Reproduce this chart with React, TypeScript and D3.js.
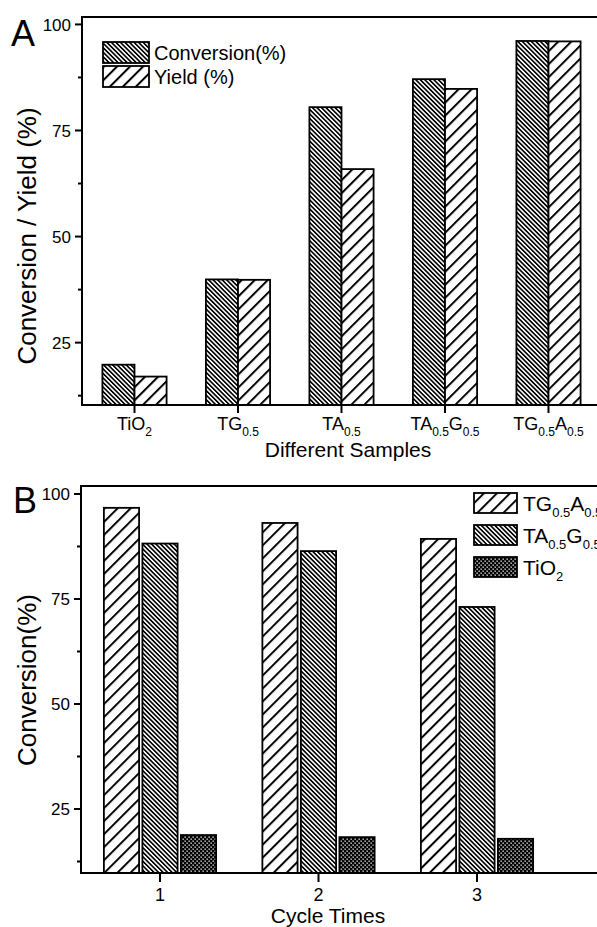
import React from "react";
import * as d3 from "d3";

// ---------- data ----------
const samples = ["TiO2", "TG0.5", "TA0.5", "TA0.5G0.5", "TG0.5A0.5"];
const conversionA = [19.8, 39.9, 80.5, 87.1, 96.1];
const yieldA = [17.0, 39.8, 65.9, 84.8, 96.0];

const cycles = ["1", "2", "3"];
const seriesB = ["TG0.5A0.5", "TA0.5G0.5", "TiO2"];
const convTGA = [96.7, 93.1, 89.3];
const convTAG = [88.2, 86.4, 73.1];
const convTiO2 = [18.8, 18.3, 17.9];

const yMajor = [25, 50, 75, 100];
const yMinor = [12.5, 37.5, 62.5, 87.5];

const FONT = "'Liberation Sans', Arial, Helvetica, sans-serif";

function SubText({ text, x, y, size, subSize, anchor = "start", shift = 5 }: any) {
  const parts = text.split(/(\d+(?:\.\d+)?)/).filter((p: string) => p !== "");
  let sub = false;
  return (
    <text x={x} y={y} fontSize={size} textAnchor={anchor} fontFamily={FONT} fill="#000">
      {parts.map((p: string, i: number) => {
        const isNum = /^\d/.test(p);
        let dy = 0;
        if (isNum && !sub) { dy = shift; sub = true; }
        else if (!isNum && sub) { dy = -shift; sub = false; }
        return (
          <tspan key={i} dy={dy} fontSize={isNum ? subSize : size}>{p}</tspan>
        );
      })}
    </text>
  );
}

const patFill: Record<string, string> = {
  dense: "url(#dense)",
  sparse: "url(#sparse)",
  dots: "url(#dots)",
};

export default function App() {
  // Panel A scales
  const xA = d3.scaleLinear().domain([0.5, 5.5]).range([82.75, 600.25]);
  const yA = d3.scaleLinear().domain([10.3, 101.75]).range([405, 17]);
  const bwA = 0.31; // bar width in category units

  // Panel B scales
  const xB = d3.scaleLinear().domain([0.5, 3.5]).range([80.75, 556.25]);
  const yB = d3.scaleLinear().domain([9.76, 101.9]).range([873, 486]);
  const bwB = 0.222;
  const offB = 0.243;

  const seriesBData = [
    { vals: convTGA, fill: "sparse" },
    { vals: convTAG, fill: "dense" },
    { vals: convTiO2, fill: "dots" },
  ];

  return (
    <svg
      width={597}
      height={927}
      style={{ position: "absolute", left: 0, top: 0, background: "#fff" }}
      fontFamily={FONT}
    >
      <defs>
        <pattern id="dense" patternUnits="userSpaceOnUse" width={3.2} height={3.2} patternTransform="rotate(-45)">
          <rect width={3.2} height={3.2} fill="#fff" />
          <line x1={0.8} y1={-1} x2={0.8} y2={5} stroke="#000" strokeWidth={1.7} />
        </pattern>
        <pattern id="sparse" patternUnits="userSpaceOnUse" width={9.2} height={9.2} patternTransform="rotate(45)">
          <rect width={9.2} height={9.2} fill="#fff" />
          <line x1={1} y1={-1} x2={1} y2={11} stroke="#000" strokeWidth={2} />
        </pattern>
        <pattern id="dots" patternUnits="userSpaceOnUse" width={4} height={4}>
          <rect width={4} height={4} fill="#000" />
          <rect x={0.5} y={0.5} width={1.3} height={1.3} fill="#fff" />
          <rect x={2.5} y={2.5} width={1.3} height={1.3} fill="#fff" />
        </pattern>
      </defs>

      {/* ================= Panel A ================= */}
      <text x={11} y={46} fontSize={36} fontFamily={FONT}>A</text>

      {samples.map((s, i) => {
        const c = i + 1;
        return (
          <g key={s}>
            <rect
              x={xA(c - bwA)}
              y={yA(conversionA[i])}
              width={xA(c) - xA(c - bwA)}
              height={yA(10.3) - yA(conversionA[i])}
              fill={patFill.dense}
              stroke="#000"
              strokeWidth={1.8}
            />
            <rect
              x={xA(c)}
              y={yA(yieldA[i])}
              width={xA(c + bwA) - xA(c)}
              height={yA(10.3) - yA(yieldA[i])}
              fill={patFill.sparse}
              stroke="#000"
              strokeWidth={1.8}
            />
          </g>
        );
      })}

      {/* frame A */}
      <line x1={82} x2={82} y1={16} y2={406} stroke="#000" strokeWidth={2} />
      <line x1={81} x2={600} y1={405} y2={405} stroke="#000" strokeWidth={2} />
      <line x1={81} x2={600} y1={17} y2={17} stroke="#000" strokeWidth={2} />

      {yMajor.map((v) => (
        <g key={"ya" + v}>
          <line x1={75} x2={82} y1={yA(v)} y2={yA(v)} stroke="#000" strokeWidth={2} />
          <text x={71} y={yA(v)} dy="0.36em" textAnchor="end" fontSize={17}>{v}</text>
        </g>
      ))}
      {yMinor.map((v) => (
        <line key={"yam" + v} x1={78} x2={82} y1={yA(v)} y2={yA(v)} stroke="#000" strokeWidth={2} />
      ))}
      {samples.map((s, i) => (
        <g key={"xa" + s}>
          <line x1={xA(i + 1)} x2={xA(i + 1)} y1={405} y2={413} stroke="#000" strokeWidth={2} />
          <SubText text={s} x={xA(i + 1)} y={430} size={18} subSize={12} anchor="middle" shift={6} />
        </g>
      ))}
      <text x={348} y={457} textAnchor="middle" fontSize={21}>Different Samples</text>
      <text
        transform={`translate(36,236) rotate(-90)`}
        textAnchor="middle"
        fontSize={26}
      >
        Conversion / Yield (%)
      </text>

      {/* legend A */}
      <rect x={103} y={42} width={46} height={21} fill={patFill.dense} stroke="#000" strokeWidth={1.8} />
      <text x={154} y={60} fontSize={20}>Conversion(%)</text>
      <rect x={103} y={66} width={46} height={21} fill={patFill.sparse} stroke="#000" strokeWidth={1.8} />
      <text x={154} y={84} fontSize={20}>Yield (%)</text>

      {/* ================= Panel B ================= */}
      <text x={13} y={513} fontSize={36} fontFamily={FONT}>B</text>

      {seriesBData.map((sd, si) =>
        cycles.map((cy, i) => {
          const c = i + 1 + (si - 1) * offB;
          return (
            <rect
              key={si + "-" + cy}
              x={xB(c - bwB / 2)}
              y={yB(sd.vals[i])}
              width={xB(c + bwB / 2) - xB(c - bwB / 2)}
              height={yB(9.76) - yB(sd.vals[i])}
              fill={patFill[sd.fill]}
              stroke="#000"
              strokeWidth={1.8}
            />
          );
        })
      )}

      {/* frame B */}
      <line x1={81} x2={81} y1={485} y2={874} stroke="#000" strokeWidth={2} />
      <line x1={80} x2={600} y1={873} y2={873} stroke="#000" strokeWidth={2} />
      <line x1={80} x2={600} y1={486} y2={486} stroke="#000" strokeWidth={2} />

      {yMajor.map((v) => (
        <g key={"yb" + v}>
          <line x1={74} x2={81} y1={yB(v)} y2={yB(v)} stroke="#000" strokeWidth={2} />
          <text x={70} y={yB(v)} dy="0.36em" textAnchor="end" fontSize={17}>{v}</text>
        </g>
      ))}
      {yMinor.map((v) => (
        <line key={"ybm" + v} x1={77} x2={81} y1={yB(v)} y2={yB(v)} stroke="#000" strokeWidth={2} />
      ))}
      {cycles.map((cy, i) => (
        <g key={"xb" + cy}>
          <line x1={xB(i + 1)} x2={xB(i + 1)} y1={873} y2={882} stroke="#000" strokeWidth={2} />
          <text x={xB(i + 1)} y={901} textAnchor="middle" fontSize={18}>{cy}</text>
        </g>
      ))}
      <text x={328} y={923} textAnchor="middle" fontSize={21}>Cycle Times</text>
      <text
        transform={`translate(36,680) rotate(-90)`}
        textAnchor="middle"
        fontSize={26}
      >
        Conversion(%)
      </text>

      {/* legend B */}
      {seriesB.map((s, i) => (
        <g key={"lb" + s}>
          <rect
            x={474}
            y={493 + i * 32}
            width={43}
            height={20}
            fill={patFill[seriesBData[i].fill]}
            stroke="#000"
            strokeWidth={1.8}
          />
          <SubText text={s} x={523} y={511 + i * 32} size={21} subSize={13} shift={6} />
        </g>
      ))}
    </svg>
  );
}
